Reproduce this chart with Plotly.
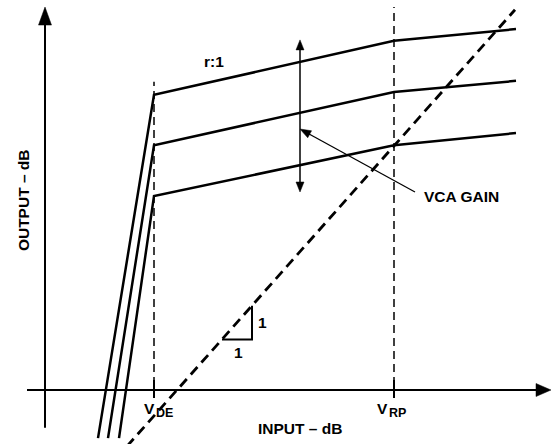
import numpy as np
import plotly.graph_objects as go

# ---------------- data (schematic dB units) ----------------
V_DE = 27.25          # downward-expander threshold (input dB)
V_RP = 87.25          # rotation point (input dB)
X_END = 117.75        # right end of the curves

curve_y_at_vde = [65.6, 54.4, 43.1]   # output at V_DE for three VCA gains
curve_y_at_vrp = [77.6, 66.2, 54.4]   # output at V_RP
curve_y_at_end = [80.2, 68.7, 57.1]   # output at right end
steep_bottom_x = [13.25, 15.75, 18.5]  # expander slopes reach bottom here
Y_BOTTOM = -10.7

UNITY_OFFSET = -33.0                  # 1:1 line: out = in - 33
unity_x = [20.5, 117.5]

slope_tri_x = [44.25, 51.75]          # 1:1 slope triangle

vca_arrow_x = 63.75
vca_arrow_y = [44.0, 77.8]
vca_pointer_from = (92.5, 44.0)
vca_pointer_to = (63.75, 58.0)

axis_x_span = [-4.5, 126.5]
axis_y_span = [-8.4, 85.1]

# ---------------- figure scale ----------------
W, H = 552, 444
X_RANGE = [-11.25, 126.75]
Y_RANGE = [-12.0, 86.6667]
SX = W / (X_RANGE[1] - X_RANGE[0])
SY = H / (Y_RANGE[1] - Y_RANGE[0])

FAMILY = "Liberation Sans, Arial, sans-serif"
FONT = dict(family=FAMILY, size=15.5, color="black", weight="bold")
SUBFONT = dict(family=FAMILY, size=12.5, color="black", weight="bold")

fig = go.Figure()


def line(xs, ys, width=2.5, dash=None):
    fig.add_trace(go.Scatter(x=xs, y=ys, mode="lines",
                             line=dict(color="black", width=width, dash=dash),
                             hoverinfo="skip", showlegend=False))


def arrowhead(tip, frm, length, width):
    dx = (tip[0] - frm[0]) * SX
    dy = (tip[1] - frm[1]) * SY
    n = np.hypot(dx, dy)
    ux, uy = dx / n, dy / n
    bx, by = -ux * length, -uy * length
    qx, qy = -uy * width / 2, ux * width / 2
    pts = [(0, 0), (bx + qx, by + qy), (bx - qx, by - qy), (0, 0)]
    xs = [tip[0] + p[0] / SX for p in pts]
    ys = [tip[1] + p[1] / SY for p in pts]
    fig.add_trace(go.Scatter(x=xs, y=ys, mode="lines", fill="toself",
                             fillcolor="black", line=dict(color="black", width=0.5),
                             hoverinfo="skip", showlegend=False))
    return (tip[0] + bx * 0.8 / SX, tip[1] + by * 0.8 / SY)


# axes
base = arrowhead((axis_x_span[1], 0), (axis_x_span[0], 0), 15, 13)
line([axis_x_span[0], base[0]], [0, 0], width=2)
base = arrowhead((0, axis_y_span[1]), (0, axis_y_span[0]), 18, 13)
line([0, 0], [axis_y_span[0], base[1]], width=2)

# threshold verticals (dashed) with ticks
line([V_DE, V_DE], [-1.8, curve_y_at_vde[0] + 2.9], width=1.5, dash="8px,5px")
line([V_RP, V_RP], [-1.8, axis_y_span[1]], width=1.5, dash="8px,5px")
for xv in (V_DE, V_RP):
    line([xv, xv], [-1.8, 2.2], width=2)

# unity-gain 1:1 line
line(unity_x, [v + UNITY_OFFSET for v in unity_x], width=2.8, dash="10px,6px")

# transfer curves
for i in range(3):
    line([steep_bottom_x[i], V_DE, V_RP, X_END],
         [Y_BOTTOM, curve_y_at_vde[i], curve_y_at_vrp[i], curve_y_at_end[i]], width=2.5)

# slope triangle
line([slope_tri_x[0], slope_tri_x[1], slope_tri_x[1]],
     [slope_tri_x[0] + UNITY_OFFSET, slope_tri_x[0] + UNITY_OFFSET, slope_tri_x[1] + UNITY_OFFSET], width=2)

# VCA gain double arrow
b_top = arrowhead((vca_arrow_x, vca_arrow_y[1]), (vca_arrow_x, vca_arrow_y[0]), 10, 8)
b_bot = arrowhead((vca_arrow_x, vca_arrow_y[0]), (vca_arrow_x, vca_arrow_y[1]), 10, 8)
line([vca_arrow_x, vca_arrow_x], [b_bot[1], b_top[1]], width=1.5)

# pointer
b = arrowhead(vca_pointer_to, vca_pointer_from, 11, 8)
line([vca_pointer_from[0], b[0]], [vca_pointer_from[1], b[1]], width=1.3)

# ---------------- text ----------------
labels = [
    ("r:1", 42.25, 72.9, "center", 0, FONT),
    ("VCA GAIN", 94.25, 42.9, "left", 0, FONT),
    ("1", 54.3, 15.1, "center", 0, FONT),
    ("1", 48.3, 8.4, "center", 0, FONT),
    ("V", 26.1, -4.0, "center", 0, FONT),
    ("DE", 29.8, -5.1, "center", 0, SUBFONT),
    ("V", 84.4, -4.0, "center", 0, FONT),
    ("RP", 88.0, -5.1, "center", 0, SUBFONT),
    ("INPUT – dB", 63.75, -8.5, "center", 0, FONT),
    ("OUTPUT – dB", -5.5, 42.2, "center", -90, FONT),
]
for txt, x, y, anchor, ang, f in labels:
    fig.add_annotation(x=x, y=y, xref="x", yref="y", text=txt, showarrow=False,
                       xanchor=anchor, yanchor="middle", textangle=ang, font=f)

fig.update_layout(
    width=W, height=H, margin=dict(l=0, r=0, t=0, b=0),
    paper_bgcolor="white", plot_bgcolor="white", showlegend=False,
    xaxis=dict(range=X_RANGE, visible=False, fixedrange=True),
    yaxis=dict(range=Y_RANGE, visible=False, fixedrange=True),
)

fig.write_html("out.html", config={"displayModeBar": False},
               post_script="document.body.style.margin='0';document.body.style.overflow='hidden';")
